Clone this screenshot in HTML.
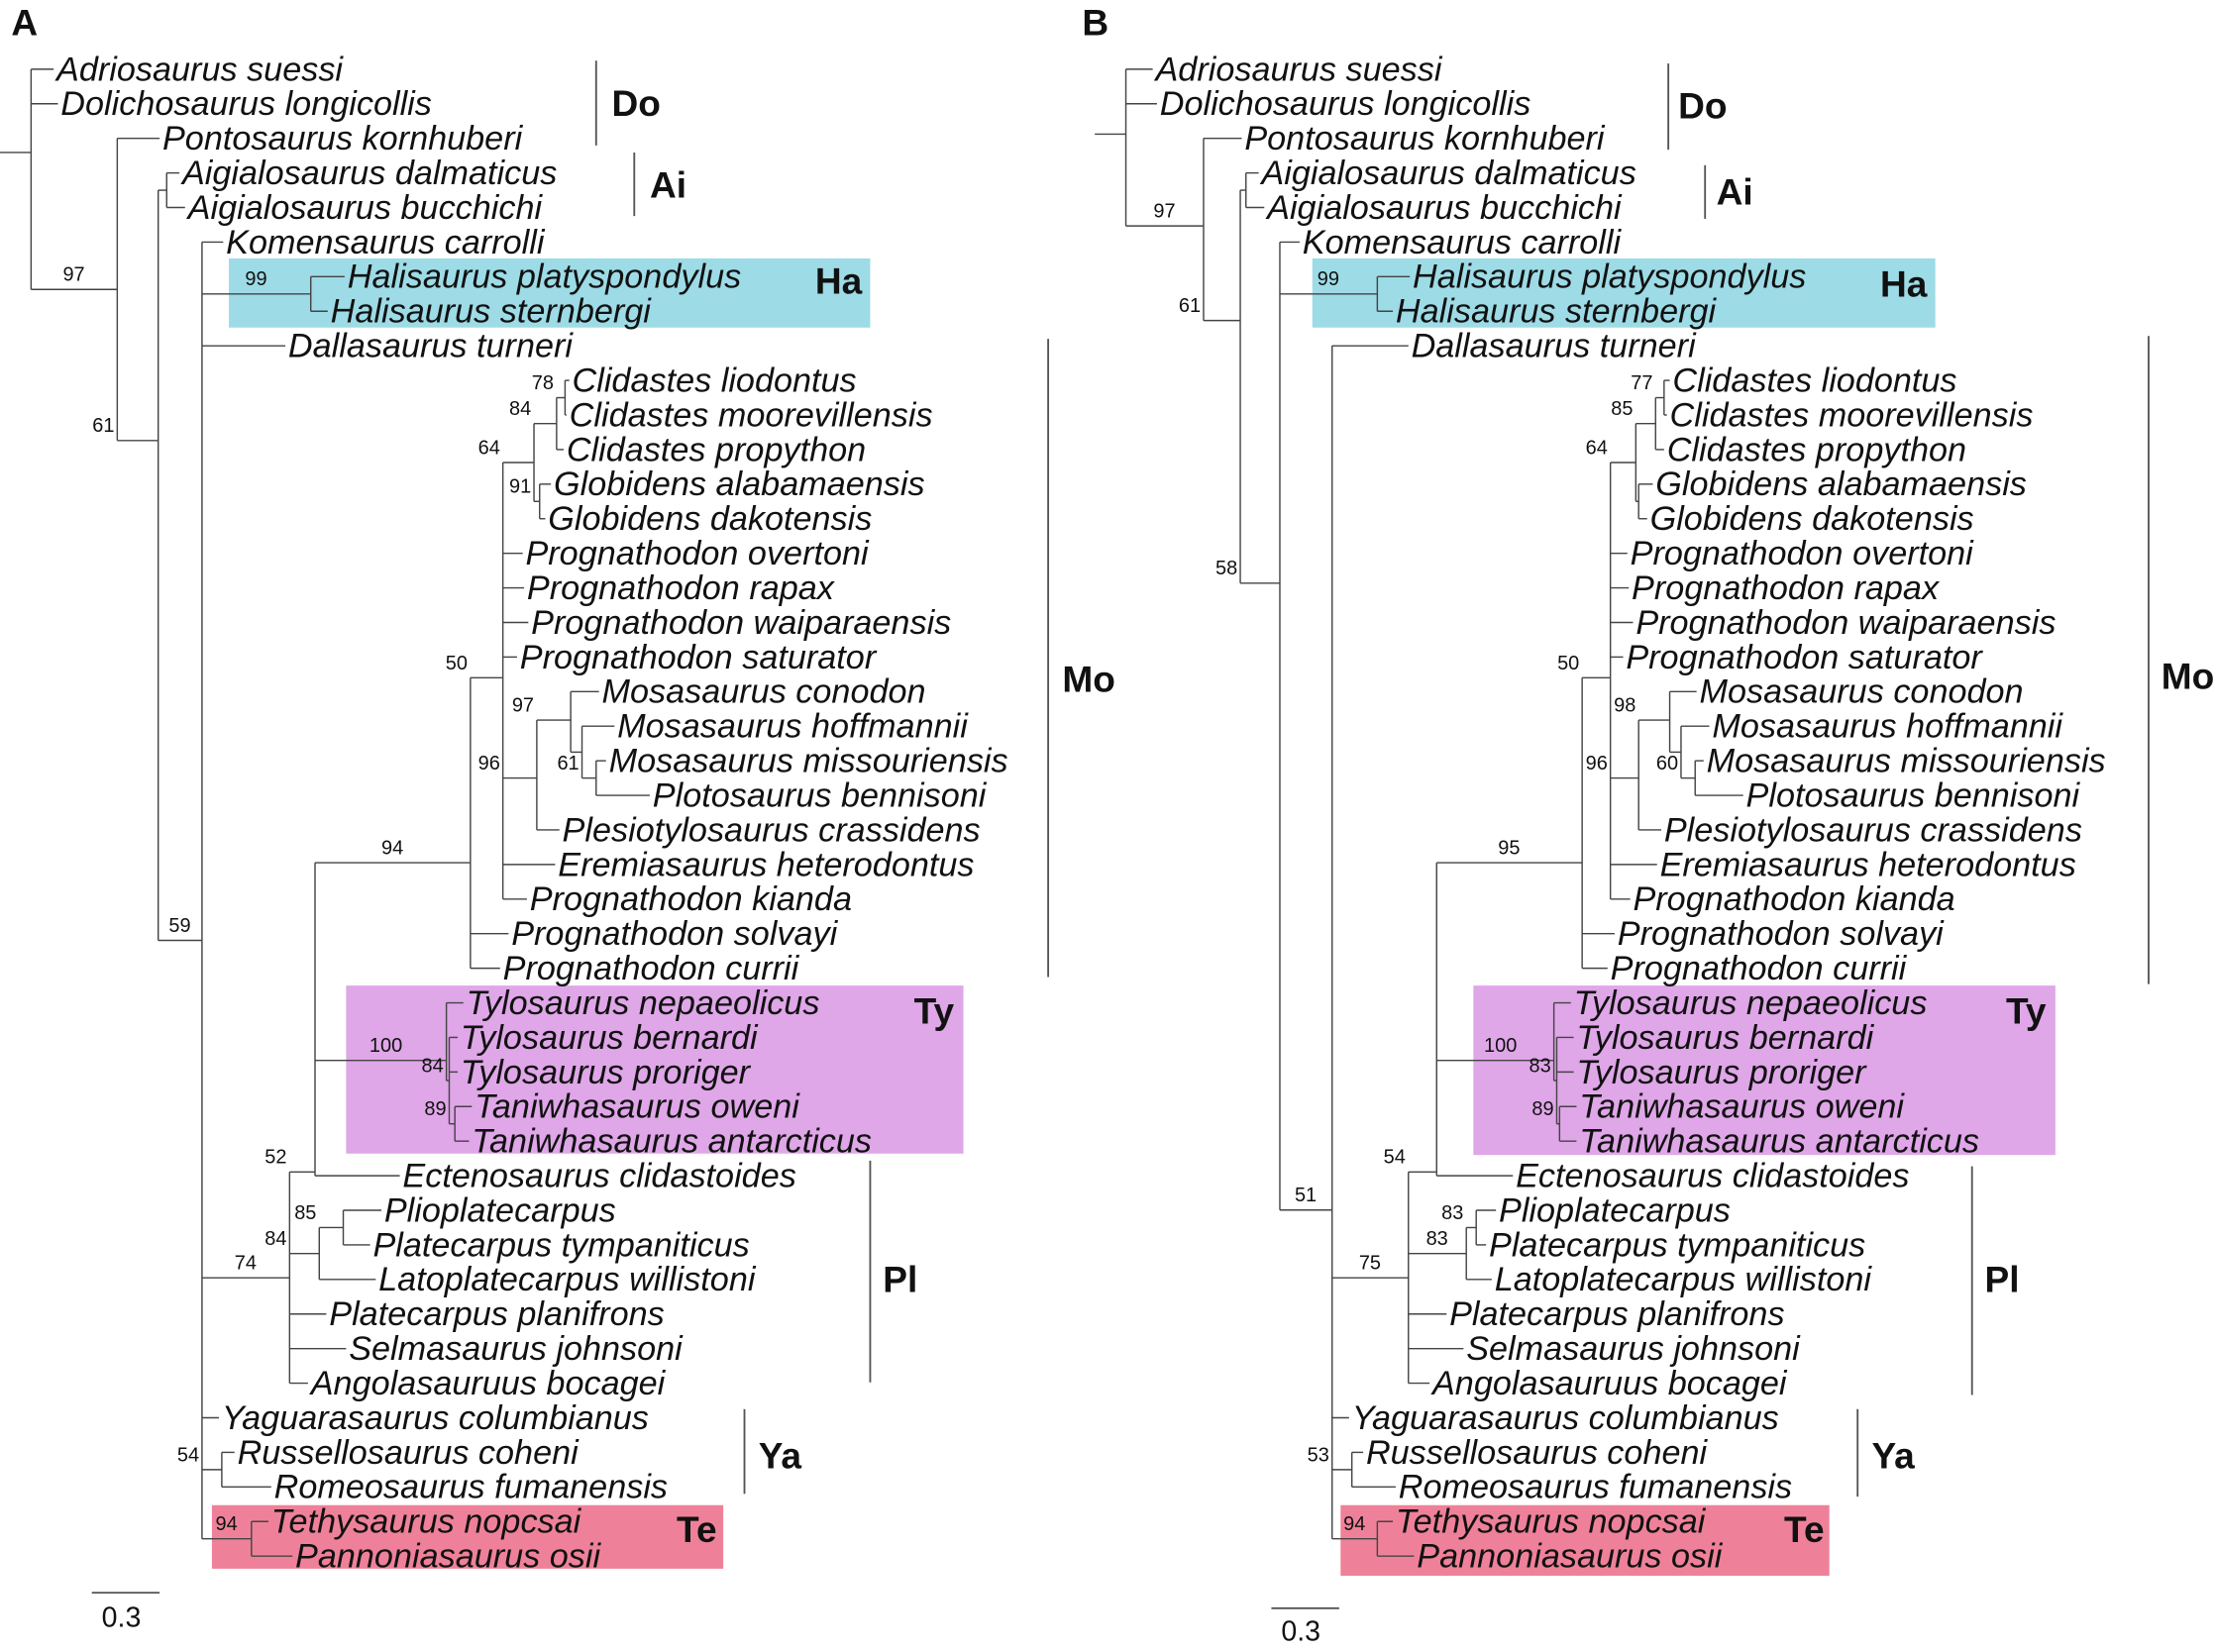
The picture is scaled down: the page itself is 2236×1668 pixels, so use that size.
<!DOCTYPE html>
<html><head><meta charset="utf-8"><style>
html,body{margin:0;padding:0;background:#fff}
svg{display:block}
.t{font-family:"Liberation Sans",sans-serif;font-style:italic;font-size:24px;fill:#111}
.s{font-family:"Liberation Sans",sans-serif;font-size:14px;fill:#111}
.g{font-family:"Liberation Sans",sans-serif;font-weight:bold;font-size:26px;fill:#111}
</style></head><body>
<svg id="sv" width="2236" height="1668" viewBox="0 0 1568 1170" preserveAspectRatio="none" xmlns="http://www.w3.org/2000/svg">
<rect x="0" y="0" width="1568" height="1170" fill="#fff"/>
<rect x="162" y="183" width="454" height="49" fill="#9ddbe6"/>
<rect x="245" y="698" width="437" height="119" fill="#dfa6e8"/>
<rect x="150" y="1066" width="362" height="45" fill="#ee8199"/>
<rect x="929" y="183" width="441" height="49" fill="#9ddbe6"/>
<rect x="1043" y="698" width="412" height="120" fill="#dfa6e8"/>
<rect x="949" y="1066" width="346" height="50" fill="#ee8199"/>
<g id="tr" stroke="#444" stroke-width="1" fill="none"></g>
<g id="tx"></g>
<g stroke="#555" stroke-width="1.3">
<line x1="422" y1="43" x2="422" y2="103"/><line x1="449" y1="108" x2="449" y2="153"/>
<line x1="742" y1="240" x2="742" y2="692"/><line x1="616" y1="822" x2="616" y2="979"/>
<line x1="527" y1="998" x2="527" y2="1058"/>
<line x1="1181" y1="45" x2="1181" y2="106"/><line x1="1207" y1="117" x2="1207" y2="155"/>
<line x1="1521" y1="238" x2="1521" y2="697"/><line x1="1396" y1="826" x2="1396" y2="988"/>
<line x1="1315" y1="998" x2="1315" y2="1060"/>
<line x1="65" y1="1128" x2="113" y2="1128"/><line x1="900" y1="1139" x2="948" y2="1139"/>
</g>
<g class="g">
<text x="8" y="25">A</text><text x="766" y="25">B</text>
<text x="433" y="82">Do</text><text x="460" y="140">Ai</text><text x="577" y="208">Ha</text>
<text x="752" y="490">Mo</text><text x="647" y="725">Ty</text><text x="625" y="915">Pl</text>
<text x="537" y="1040">Ya</text><text x="479" y="1092">Te</text>
<text x="1188" y="84">Do</text><text x="1215" y="145">Ai</text><text x="1331" y="210">Ha</text>
<text x="1530" y="488">Mo</text><text x="1420" y="725">Ty</text><text x="1405" y="915">Pl</text>
<text x="1325" y="1040">Ya</text><text x="1263" y="1092">Te</text>
</g>
<g style="font-family:'Liberation Sans',sans-serif;font-size:20px;fill:#111">
<text x="72" y="1152">0.3</text><text x="907" y="1162">0.3</text></g>
</svg>
<script>
var names=["Adriosaurus suessi","Dolichosaurus longicollis","Pontosaurus kornhuberi","Aigialosaurus dalmaticus","Aigialosaurus bucchichi","Komensaurus carrolli","Halisaurus platyspondylus","Halisaurus sternbergi","Dallasaurus turneri","Clidastes liodontus","Clidastes moorevillensis","Clidastes propython","Globidens alabamaensis","Globidens dakotensis","Prognathodon overtoni","Prognathodon rapax","Prognathodon waiparaensis","Prognathodon saturator","Mosasaurus conodon","Mosasaurus hoffmannii","Mosasaurus missouriensis","Plotosaurus bennisoni","Plesiotylosaurus crassidens","Eremiasaurus heterodontus","Prognathodon kianda","Prognathodon solvayi","Prognathodon currii","Tylosaurus nepaeolicus","Tylosaurus bernardi","Tylosaurus proriger","Taniwhasaurus oweni","Taniwhasaurus antarcticus","Ectenosaurus clidastoides","Plioplatecarpus","Platecarpus tympaniticus","Latoplatecarpus willistoni","Platecarpus planifrons","Selmasaurus johnsoni","Angolasauruus bocagei","Yaguarasaurus columbianus","Russellosaurus coheni","Romeosaurus fumanensis","Tethysaurus nopcsai","Pannoniasaurus osii"];
var tipA=[40,43,115,129,133,160,246,234,204,405,403,401,392,388,372,373,376,368,426,437,431,462,398,395,375,362,356,330,326,326,336,334,285,272,264,268,233,247,220,157,168,194,192,209];
var tipB=[818,821,881,893,897,922,1000,988,999,1184,1182,1180,1172,1168,1154,1155,1158,1151,1203,1212,1208,1236,1178,1175,1156,1145,1140,1114,1116,1116,1118,1118,1073,1061,1054,1058,1026,1038,1014,957,967,990,988,1003];
function Y(i){return 49+24.49*i;}
function N(x,c,l,y){return {x:x,c:c,l:l,y:y};}
var tr=document.getElementById('tr'),tx=document.getElementById('tx'),NS='http://www.w3.org/2000/svg';
function el(p,n,a,t){var e=document.createElementNS(NS,n);for(var k in a)e.setAttribute(k,a[k]);if(t)e.textContent=t;p.appendChild(e);return e;}
function draw(n,tips,px){
 if(typeof n==='number'){var y=Y(n);el(tr,'line',{x1:px,y1:y,x2:tips[n]-2,y2:y});return y;}
 var ys=n.c.map(function(c){return draw(c,tips,n.x);});
 var y0=Math.min.apply(null,ys),y1=Math.max.apply(null,ys),ym=(n.y!==undefined)?n.y:(y0+y1)/2;
 y0=Math.min(y0,ym);y1=Math.max(y1,ym);
 el(tr,'line',{x1:n.x,y1:y0,x2:n.x,y2:y1});
 if(px!==null)el(tr,'line',{x1:px,y1:ym,x2:n.x,y2:ym});
 if(n.l){var long=n.x-px>30;el(tx,'text',{'class':'s',x:long?px+(n.x-px)/2-8:px-2,y:ym-6,'text-anchor':long?'start':'end'},n.l);}
 return ym;}
var A=N(22,[0,1,N(83,[2,N(112,[N(118,[3,4]),N(143,[5,N(220,[6,7],'99'),8,
 N(205,[N(223,[N(333,[N(356,[N(378,[N(394,[N(400,[9,10],'78'),11],'84'),N(382,[12,13],'91')],'64'),14,15,16,17,
   N(380,[N(404,[18,N(412,[19,N(422,[20,21],'61')])],'97',510),22],'96',551),23,24],'50',480),25,26],'94',611),
  N(316,[27,N(318,[28,29,N(322,[30,31],'89')],'84')],'100',751),32],'52',830),
  N(226,[N(243,[33,34],'85'),35],'84'),36,37,38],'74',905),
 39,N(157,[40,41],'54'),N(178,[42,43],'94')],'59',666)],'61',312)],'97',205)],null,108);
var B=N(797,[0,1,N(852,[2,N(878,[N(882,[3,4]),N(906,[5,N(975,[6,7],'99'),
 N(943,[8,N(997,[N(1017,[N(1120,[N(1140,[N(1158,[N(1172,[N(1178,[9,10],'77'),11],'85'),N(1160,[12,13])],'64'),14,15,16,17,
   N(1160,[N(1182,[18,N(1190,[19,N(1200,[20,21],'60')])],'98',510),22],'96',551),23,24],'50',480),25,26],'95',611),
  N(1100,[27,N(1102,[28,29,N(1104,[30,31],'89')],'83')],'100',751),32],'54',830),
  N(1038,[N(1045,[33,34],'83'),35],'83'),36,37,38],'75',905),
 39,N(957,[40,41],'53'),N(975,[42,43],'94')],'51',857)],'58',413)],'61',227)],'97',160)],null,95);
var ra=draw(A,tipA,null);el(tr,'line',{x1:0,y1:ra,x2:22,y2:ra});
var rb=draw(B,tipB,null);el(tr,'line',{x1:775,y1:rb,x2:797,y2:rb});
for(var i=0;i<44;i++){el(tx,'text',{'class':'t',x:tipA[i],y:Y(i)+8},names[i]);el(tx,'text',{'class':'t',x:tipB[i],y:Y(i)+8},names[i]);}
</script>
</body></html>
